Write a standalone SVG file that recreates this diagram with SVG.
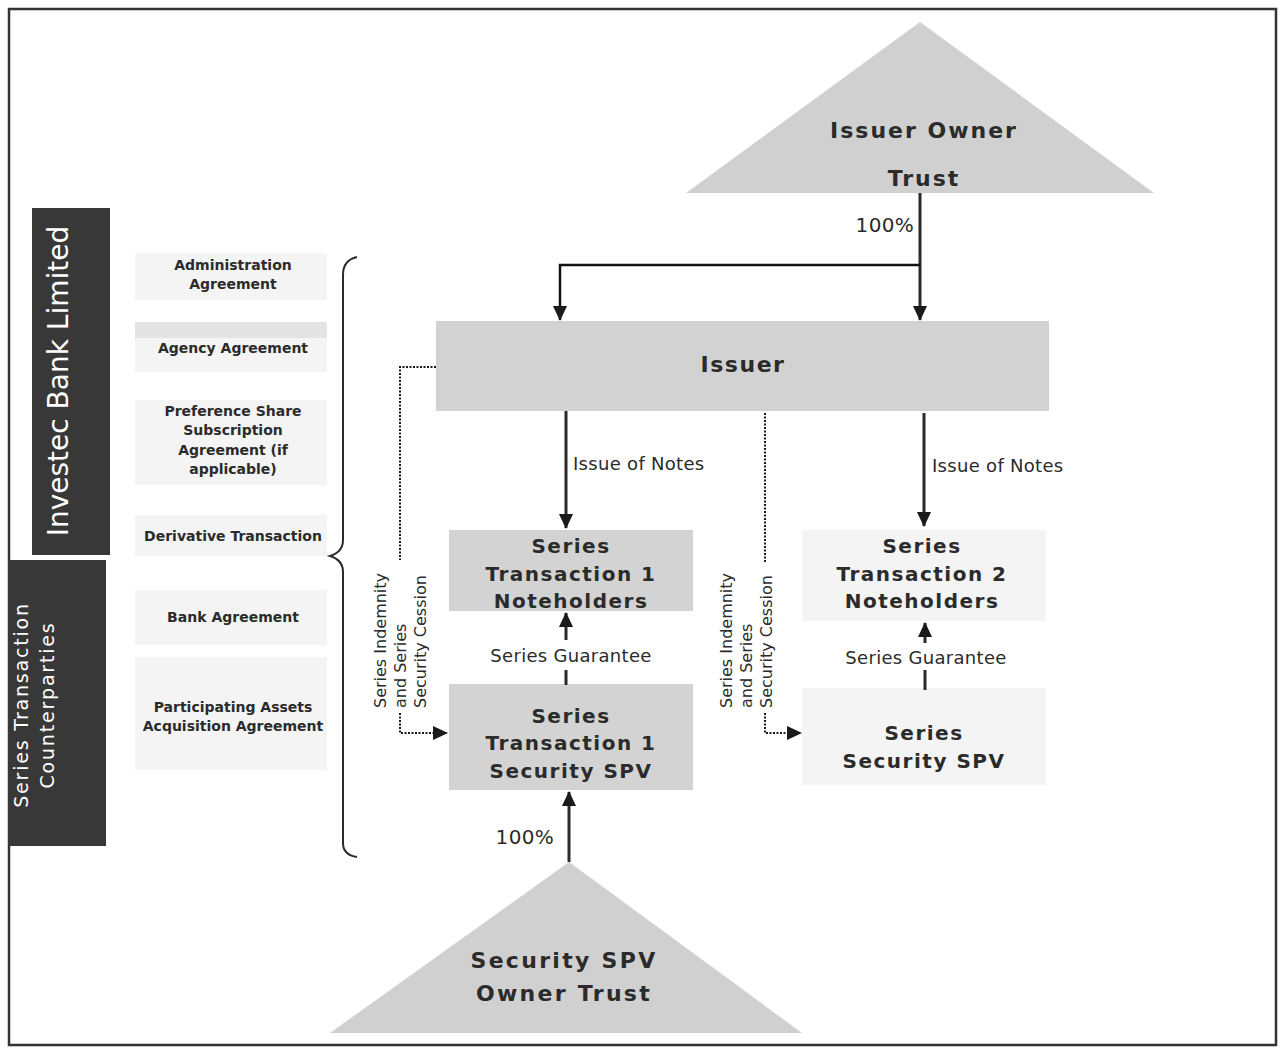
<svg xmlns="http://www.w3.org/2000/svg" width="1280" height="1048" viewBox="0 0 1280 1048">
<style>
.t{font-family:"DejaVu Sans","Liberation Sans",sans-serif;fill:#2b2b2b}
.title{font-weight:bold;font-size:20px;letter-spacing:1.5px;text-anchor:middle}
.big{font-weight:bold;font-size:22px;letter-spacing:2px;text-anchor:middle}
.lbl{font-weight:bold;font-size:14px;text-anchor:middle}
.reg{font-size:18px;letter-spacing:0.3px}
.rot{font-size:16px}
.bar{font-family:"DejaVu Sans","Liberation Sans",sans-serif;fill:#ffffff;text-anchor:middle}
.solid{stroke:#2b2b2b;stroke-width:3;fill:none}
.dot{stroke:#1a1a1a;stroke-width:2;stroke-dasharray:2 1.5;fill:none}
.lbox{fill:#f4f4f4}
</style>
<defs>
<marker id="ah" markerWidth="16" markerHeight="16" refX="14" refY="8" orient="auto" markerUnits="userSpaceOnUse">
<path d="M0,1 L15,8 L0,15 z" fill="#1a1a1a"/>
</marker>
</defs>
<rect x="9" y="9" width="1267" height="1036" fill="#ffffff" stroke="#333" stroke-width="2.5"/>

<g id="issuer-owner-trust">
<polygon points="920,22 1154,193 686,193" fill="#d0d0d0"/>
<text class="t big" x="924" y="138">Issuer Owner</text>
<text class="t big" x="924" y="186">Trust</text>
</g>

<g id="issuer">
<rect x="436" y="321" width="613" height="90" fill="#d2d2d2"/>
<text class="t big" x="743" y="372" style="letter-spacing:1.5px">Issuer</text>
</g>

<g id="st1-noteholders">
<rect x="449" y="530" width="244" height="81" fill="#d3d3d3"/>
<text class="t title" x="571" y="553">Series</text>
<text class="t title" x="571" y="581">Transaction 1</text>
<text class="t title" x="571" y="608">Noteholders</text>
</g>

<g id="st1-security-spv">
<rect x="449" y="684" width="244" height="106" fill="#d3d3d3"/>
<text class="t title" x="571" y="723">Series</text>
<text class="t title" x="571" y="750">Transaction 1</text>
<text class="t title" x="571" y="778">Security SPV</text>
</g>

<g id="st2-noteholders">
<rect x="802" y="530" width="244" height="91" fill="#f4f4f4"/>
<text class="t title" x="922" y="553">Series</text>
<text class="t title" x="922" y="581">Transaction 2</text>
<text class="t title" x="922" y="608">Noteholders</text>
</g>

<g id="series-security-spv">
<rect x="802" y="688" width="244" height="97" fill="#f4f4f4"/>
<text class="t title" x="924" y="740">Series</text>
<text class="t title" x="924" y="768">Security SPV</text>
</g>

<g id="security-spv-owner-trust">
<polygon points="569,862 802,1033 330,1033" fill="#d0d0d0"/>
<text class="t big" x="564" y="968" style="letter-spacing:2.3px">Security SPV</text>
<text class="t big" x="564" y="1001" style="letter-spacing:2.3px">Owner Trust</text>
</g>

<g id="investec-bar">
<rect x="32" y="208" width="78" height="347" fill="#383838"/>
<text class="bar" transform="translate(68,381) rotate(-90)" font-size="28">Investec Bank Limited</text>
</g>

<g id="counterparties-bar">
<rect x="8" y="560" width="98" height="286" fill="#383838"/>
<text class="bar" transform="translate(28,705) rotate(-90)" font-size="19" letter-spacing="1.8">Series Transaction</text>
<text class="bar" transform="translate(54,705) rotate(-90)" font-size="19" letter-spacing="1.8">Counterparties</text>
</g>

<g id="agreements">
<g id="admin-agreement">
<rect class="lbox" x="135" y="253" width="192" height="47"/>
<text class="t lbl" x="233" y="270">Administration</text>
<text class="t lbl" x="233" y="289">Agreement</text>
</g>
<g id="agency-agreement">
<rect class="lbox" x="135" y="322" width="192" height="50"/>
<rect x="135" y="322" width="192" height="16" fill="#e4e4e4"/>
<text class="t lbl" x="233" y="353">Agency Agreement</text>
</g>
<g id="pref-share">
<rect class="lbox" x="135" y="400" width="192" height="85"/>
<text class="t lbl" x="233" y="416">Preference Share</text>
<text class="t lbl" x="233" y="435">Subscription</text>
<text class="t lbl" x="233" y="455">Agreement (if</text>
<text class="t lbl" x="233" y="474">applicable)</text>
</g>
<g id="derivative">
<rect class="lbox" x="135" y="515" width="192" height="41"/>
<text class="t lbl" x="233" y="541">Derivative Transaction</text>
</g>
<g id="bank-agreement">
<rect class="lbox" x="135" y="590" width="192" height="55"/>
<text class="t lbl" x="233" y="622">Bank Agreement</text>
</g>
<g id="paa-agreement">
<rect class="lbox" x="135" y="657" width="192" height="113"/>
<text class="t lbl" x="233" y="712">Participating Assets</text>
<text class="t lbl" x="233" y="731">Acquisition Agreement</text>
</g>
<path d="M357,257 Q343,260 343,275 L343,540 Q343,552 330,556 Q343,560 343,572 L343,843 Q343,855 357,857" fill="none" stroke="#2b2b2b" stroke-width="2"/>
</g>

<g id="connectors">
<line class="solid" x1="920" y1="193" x2="920" y2="320" marker-end="url(#ah)"/>
<text class="t reg" x="914" y="232" text-anchor="end" style="font-size:20px">100%</text>
<polyline points="920,265 560,265 560,320" fill="none" stroke="#111" stroke-width="2.5" marker-end="url(#ah)"/>

<line class="solid" x1="566" y1="411" x2="566" y2="528" marker-end="url(#ah)"/>
<text class="t reg" x="573" y="470">Issue of Notes</text>
<line class="solid" x1="924" y1="413" x2="924" y2="526" marker-end="url(#ah)"/>
<text class="t reg" x="932" y="472">Issue of Notes</text>

<line class="solid" x1="566" y1="640" x2="566" y2="613" marker-end="url(#ah)"/>
<line class="solid" x1="566" y1="670" x2="566" y2="685"/>
<text class="t reg" x="571" y="662" text-anchor="middle">Series Guarantee</text>
<line class="solid" x1="925" y1="643" x2="925" y2="623" marker-end="url(#ah)"/>
<line class="solid" x1="925" y1="670" x2="925" y2="690"/>
<text class="t reg" x="926" y="664" text-anchor="middle">Series Guarantee</text>

<line class="solid" x1="569" y1="862" x2="569" y2="792" marker-end="url(#ah)"/>
<text class="t reg" x="554" y="844" text-anchor="end" style="font-size:20px">100%</text>

<polyline class="dot" points="436,367 400,367 400,560"/>
<polyline class="dot" points="400,713 400,733 447,733" marker-end="url(#ah)"/>
<text class="t rot" transform="translate(386,708) rotate(-90)">Series Indemnity</text>
<text class="t rot" transform="translate(406,708) rotate(-90)">and Series</text>
<text class="t rot" transform="translate(426,708) rotate(-90)">Security Cession</text>

<polyline class="dot" points="765,413 765,563"/>
<polyline class="dot" points="765,713 765,733 801,733" marker-end="url(#ah)"/>
<text class="t rot" transform="translate(732,708) rotate(-90)">Series Indemnity</text>
<text class="t rot" transform="translate(752,708) rotate(-90)">and Series</text>
<text class="t rot" transform="translate(772,708) rotate(-90)">Security Cession</text>
</g>
</svg>
